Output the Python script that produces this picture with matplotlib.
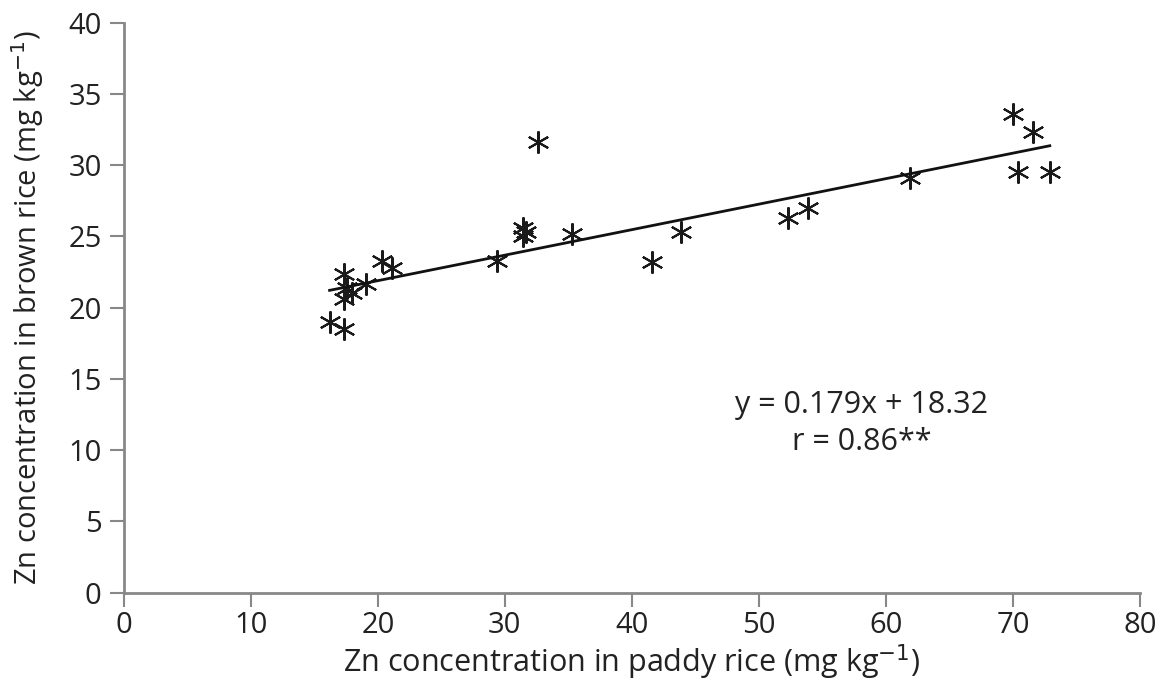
import matplotlib
matplotlib.use("Agg")
import matplotlib.pyplot as plt
import numpy as np

paddy_zn = [16.2, 17.3, 17.3, 17.6, 18.0, 17.3, 19.1, 20.3, 21.1, 29.4,
            31.4, 31.7, 31.4, 32.6, 35.3, 41.6, 43.9, 52.3, 53.9, 61.9,
            70.0, 71.6, 70.4, 72.9]
brown_zn = [19.0, 18.5, 22.4, 21.4, 21.0, 20.6, 21.7, 23.3, 22.8, 23.3,
            25.6, 25.3, 25.0, 31.6, 25.2, 23.2, 25.3, 26.3, 27.0, 29.1,
            33.6, 32.3, 29.5, 29.5]
slope, intercept = 0.179, 18.32
x_ticks = [0, 10, 20, 30, 40, 50, 60, 70, 80]
y_ticks = [0, 5, 10, 15, 20, 25, 30, 35, 40]

plt.rcParams['font.family'] = ['Open Sans', 'DejaVu Sans']
fig = plt.figure(figsize=(11.68, 6.9), dpi=100)
ax = fig.add_axes([0.106, 0.141, 0.870, 0.826])

ax.plot(paddy_zn, brown_zn, linestyle='none', marker=(6, 2, 0), markersize=16,
        markeredgewidth=1.5, color='#1a1a1a')
xs = np.array([min(paddy_zn), max(paddy_zn)])
ax.plot(xs, slope * xs + intercept, color='#111111', linewidth=2)

ax.set_xlim(0, 80)
ax.set_ylim(0, 40)
ax.set_xticks(x_ticks)
ax.set_yticks(y_ticks)
ax.tick_params(axis='both', colors='#888888', labelcolor='#222222', length=10,
               width=1.5, labelsize=21)
ax.tick_params(axis='y', pad=6)
ax.tick_params(axis='x', pad=3)
for s in ['top', 'right']:
    ax.spines[s].set_visible(False)
for s in ['left', 'bottom']:
    ax.spines[s].set_color('#888888')
    ax.spines[s].set_linewidth(2)

ax.set_xlabel('Zn concentration in paddy rice (mg kg$^{-1}$)', fontsize=22,
              color='#222222')
ax.set_ylabel('Zn concentration in brown rice (mg kg$^{-1}$)', fontsize=21,
              color='#222222')
ax.xaxis.set_label_coords(0.5, -0.087)
ax.yaxis.set_label_coords(-0.077, 0.5)

ax.text(58.1, 13.2, 'y = 0.179x + 18.32', ha='center', va='center', fontsize=22,
        color='#222222')
ax.text(58.1, 10.6, 'r = 0.86**', ha='center', va='center', fontsize=22,
        color='#222222')

fig.savefig('out.png', dpi=100)
